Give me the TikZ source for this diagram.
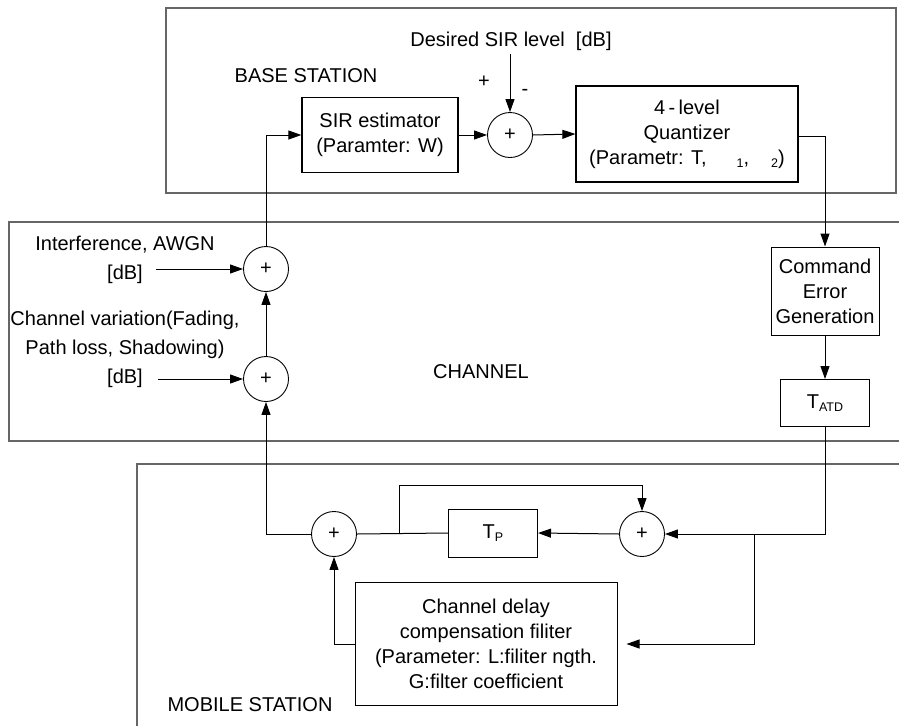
\documentclass[tikz,border=0pt]{standalone}
\usepackage{fontspec}
\setmainfont{Liberation Sans}
\usetikzlibrary{arrows.meta}

\newcommand{\sub}[1]{\raisebox{-3pt}{\fontsize{12.5}{12.5}\selectfont #1}}

\begin{document}
\begin{tikzpicture}[x=1pt,y=-1pt,
  every node/.style={font=\fontsize{20}{25}\selectfont, inner sep=0pt},
  region/.style={draw=black!60, line width=1.8pt},
  blk/.style={draw, line width=1.3pt, align=center},
  sumc/.style={draw, circle, line width=0.9pt, minimum size=45pt},
  wire/.style={line width=1pt},
  arr/.style={wire, -{Triangle[length=13pt,width=9pt]}},
  lbl/.style={align=center},
  sidelbl/.style={align=center, font=\fontsize{20}{29}\selectfont}
]
\useasboundingbox (0,0) rectangle (899,726);

% station and channel regions
\draw[region] (166,8) rectangle (896,193);
\draw[region] (899,222) -- (9,222) -- (9,441) -- (899,441);
\draw[region] (137,726) -- (137,464) -- (899,464);

\node[lbl] at (306,76) {BASE STATION};
\node[lbl] at (481,372) {CHANNEL};
\node[lbl] at (250,705) {MOBILE STATION};

% base station
\node[blk, minimum width=156pt, minimum height=75pt] (sir) at (380,135) {SIR estimator\\(Paramter: W)};
\node[sumc] (s1) at (510,135) {+};
\node[blk, minimum width=222pt, minimum height=96pt] (quant) at (687,134)
  {4\,-\,level\\Quantizer\\(Parametr: T,\hspace{30pt}\sub{1},\hspace{22pt}\sub{2})};
\node[lbl] (des) at (511,41) {Desired SIR level\ \ [dB]};
\coordinate (dtop) at (510,54);
\node at (484,82) {+};
\node at (525,92) {-};

% channel
\node[blk, minimum width=108pt, minimum height=88pt, line width=1pt] (cmd) at (825,291) {Command\\Error\\Generation};
\node[blk, minimum width=89pt, minimum height=47pt, line width=1pt] (tatd) at (825,403) {T\sub{ATD}};
\node[sumc] (c1) at (266,269) {+};
\node[sumc] (c2) at (266,379) {+};
\node[sidelbl] (intf) at (125,260) {Interference, AWGN\\{}[dB]};
\node[sidelbl] (chv) at (125,349) {Channel variation(Fading,\\Path loss, Shadowing)\\{}[dB]};
\coordinate (intfin) at (156,269);
\coordinate (chvin) at (158,379);

% mobile station
\node[sumc] (m1) at (334,534) {+};
\node[blk, minimum width=89pt, minimum height=48pt, line width=1pt] (tp) at (493,533) {T\sub{P}};
\node[sumc] (m2) at (642,534) {+};
\node[blk, minimum width=262pt, minimum height=123pt, line width=1pt] (filt) at (486,644)
  {Channel delay\\compensation filiter\\(Parameter: L:filiter ngth.\\G:filter coefficient};
\coordinate (br) at (399,534);
\coordinate (jn) at (754,534);

% connectors
\draw[arr] (dtop) -- (s1.north);
\draw[arr] (sir.east) -- (s1.west);
\draw[arr] (s1.east) -- (quant.west);
\draw[arr] (quant.east |- 0,136) -| (cmd.north);
\draw[arr] (cmd.south) -- (tatd.north);
\draw[arr] (tatd.south) |- (m2.east);
\draw[arr, shorten >=9pt] (jn) |- (filt.east);
\draw[arr] (m2.west) -- (tp.east);
\draw[wire] (tp.west) -- (m1.east);
\draw[arr] (br) -- ++(0,-49) -| (m2.north);
\draw[arr] (filt.west) -| (m1.south);
\draw[arr] (m1.west) -| (c2.south);
\draw[arr] (c2.north) -- (c1.south);
\draw[arr] (c1.north) |- (sir.west);
\draw[arr] (intfin) -- (c1.west);
\draw[arr] (chvin) -- (c2.west);
\end{tikzpicture}
\end{document}
